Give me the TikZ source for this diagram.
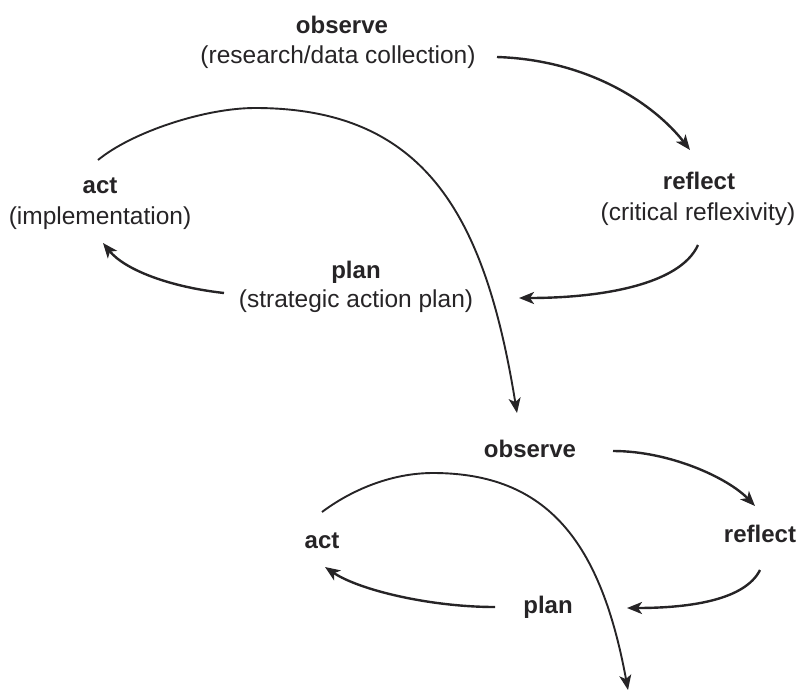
\documentclass[tikz,border=0pt]{standalone}
\usepackage{fontspec}
\setmainfont{Liberation Sans}
\usetikzlibrary{arrows.meta}
\definecolor{ink}{HTML}{262426}
\tikzset{
  title/.style={anchor=base, inner sep=0pt, text=ink, font=\fontsize{24}{28}\selectfont\bfseries},
  sub/.style={anchor=base, inner sep=0pt, text=ink, font=\fontsize{24.5}{30}\selectfont},
  cyc/.style={draw=ink, line width=2.4pt, -{Stealth[length=15pt,width=12pt,inset=4pt]}},
  bigarc/.style={draw=ink, line width=1.9pt, -{Stealth[length=15pt,width=12pt,inset=4pt]}}
}
\begin{document}
\begin{tikzpicture}[x=1pt,y=-1pt]
\useasboundingbox (0,0) rectangle (798,694);
% upper cycle labels
\node[title] (obsT) at (342,33) {observe};
\node[sub]   (obsS) at (338,63) {(research/data collection)};
\node[title] (refT) at (699,189) {reflect};
\node[sub]   (refS) at (698,220) {(critical reflexivity)};
\node[title] (plaT) at (356,278) {plan};
\node[sub]   (plaS) at (356,307) {(strategic action plan)};
\node[title] (actT) at (100,193) {act};
\node[sub]   (actS) at (100,224) {(implementation)};
% lower cycle labels
\node[title] (obs2) at (530,457) {observe};
\node[title] (ref2) at (760,542) {reflect};
\node[title] (pla2) at (548,613) {plan};
\node[title] (act2) at (322,548) {act};
% connector end points
\coordinate (a1) at (497,57);  \coordinate (b1) at (690,150);
\coordinate (a2) at (698,245); \coordinate (b2) at (519,298);
\coordinate (a3) at (224,293); \coordinate (b3) at (103,243);
\coordinate (s1) at (98,160);  \coordinate (p1) at (255,108);
\coordinate (t1) at (517,413);
\coordinate (c1) at (613,451); \coordinate (d1) at (755,506);
\coordinate (c2) at (760,570); \coordinate (d2) at (627,608);
\coordinate (c3) at (495,607); \coordinate (d3) at (325,567);
\coordinate (s2) at (322,512); \coordinate (p2) at (433,473);
\coordinate (t2) at (628,690);
% upper cycle
\draw[cyc] (a1) .. controls (590,60) and (655,105) .. (b1);
\draw[cyc] (a2) .. controls (680,285) and (600,298) .. (b2);
\draw[cyc] (a3) .. controls (170,287) and (125,270) .. (b3);
\draw[bigarc] (s1) .. controls (132,132) and (205,108) .. (p1)
  .. controls (425,108) and (485,215) .. (t1);
% lower cycle
\draw[cyc] (c1) .. controls (670,451) and (728,478) .. (d1);
\draw[cyc] (c2) .. controls (745,600) and (690,608) .. (d2);
\draw[cyc] (c3) .. controls (430,607) and (359,590) .. (d3);
\draw[bigarc] (s2) .. controls (350,491) and (390,473) .. (p2)
  .. controls (548,473) and (601,543) .. (t2);
\end{tikzpicture}
\end{document}
